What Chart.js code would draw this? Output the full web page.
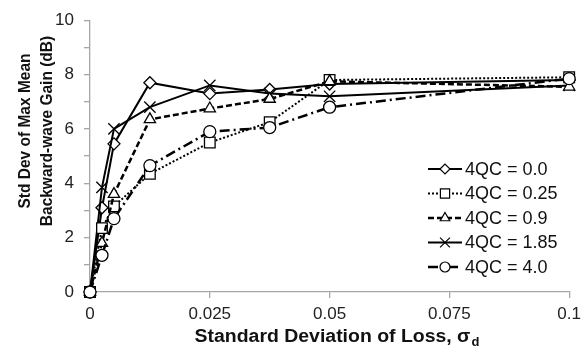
<!DOCTYPE html>
<html>
<head>
<meta charset="utf-8">
<script src="https://cdn.jsdelivr.net/npm/chart.js@4"></script>
<style>
  html, body { margin: 0; padding: 0; background: #fff; }
  #wrap { position: relative; width: 587px; height: 349px; }
</style>
</head>
<body>
<div id="wrap"><canvas id="gainChart" width="587" height="349"></canvas></div>
<script>
// standard deviation of loss (x values)
const sigmaD = [0, 0.0025, 0.005, 0.0125, 0.025, 0.0375, 0.05, 0.1];

// std dev of max mean backward-wave gain (dB), one list per 4QC value
const qc00 = [0, 3.1, 5.45, 7.7, 7.3, 7.45, 7.65, 7.8];
const qc025 = [0, 2.35, 3.15, 4.35, 5.5, 6.25, 7.8, 7.9];
const qc09 = [0, 1.8, 3.6, 6.35, 6.75, 7.1, 7.75, 7.55];
const qc185 = [0, 3.85, 6.0, 6.8, 7.6, 7.3, 7.2, 7.6];
const qc40 = [0, 1.35, 2.7, 4.65, 5.9, 6.05, 6.8, 7.85];

const seriesNames = ['4QC = 0.0', '4QC = 0.25', '4QC = 0.9', '4QC = 1.85', '4QC = 4.0'];
const xTickLabels = ['0', '0.025', '0.05', '0.075', '0.1'];
const yTickLabels = ['0', '2', '4', '6', '8', '10'];
const yTitleLines = ['Std Dev of Max Mean', 'Backward-wave Gain (dB)'];

const fontFamily = '"Liberation Sans", Arial, sans-serif';

function pts(ys) {
    return ys.map((y, i) => ({ x: sigmaD[i], y: y }));
}

function series(label, ys, style, radius, dash, width) {
    return {
        label: label,
        data: pts(ys),
        borderColor: '#000',
        borderWidth: width,
        borderDash: dash,
        pointStyle: style,
        pointRadius: radius,
        pointHoverRadius: radius,
        pointBackgroundColor: '#fff',
        pointBorderColor: '#000',
        pointBorderWidth: 1.3,
        tension: 0,
        fill: false,
        clip: false
    };
}

const datasets = [
    series(seriesNames[4], qc40, 'circle', 6, [10, 4, 2, 4], 2.5),
    series(seriesNames[2], qc09, 'triangle', 6.5, [6, 3], 2.5),
    series(seriesNames[1], qc025, 'rect', 7.5, [2, 2], 2),
    series(seriesNames[3], qc185, 'crossRot', 8, [], 2),
    series(seriesNames[0], qc00, 'rectRot', 6, [], 2)
];

// legend drawn as line sample + marker, in the order of the picture
const legendPlugin = {
    id: 'lineLegend',
    afterDraw(chart) {
        const ctx = chart.ctx;
        const order = [4, 2, 1, 3, 0];
        ctx.save();
        order.forEach((di, row) => {
            const ds = chart.data.datasets[di];
            const y = 169 + row * 24.5;
            ctx.strokeStyle = '#000';
            ctx.lineWidth = ds.borderWidth;
            ctx.setLineDash(ds.borderDash);
            ctx.beginPath();
            ctx.moveTo(428, y);
            ctx.lineTo(462, y);
            ctx.stroke();
            ctx.setLineDash([]);
            ctx.fillStyle = '#fff';
            ctx.lineWidth = 1.2;
            Chart.helpers.drawPoint(ctx, { pointStyle: ds.pointStyle, radius: ds.pointRadius - 1, rotation: 0, borderWidth: 1.2 }, 445, y);
            ctx.fillStyle = '#111';
            ctx.font = '18px ' + fontFamily;
            ctx.textBaseline = 'middle';
            ctx.textAlign = 'left';
            ctx.fillText(ds.label, 465, y + 1);
        });
        ctx.restore();
    }
};

// axis titles: x title has a subscript d, y title sits a bit above the middle
const titlePlugin = {
    id: 'axisTitles',
    afterDraw(chart) {
        const ctx = chart.ctx;
        const main = 'Standard Deviation of Loss, \u03c3';
        const sub = 'd';
        ctx.save();
        ctx.fillStyle = '#111';
        ctx.textBaseline = 'alphabetic';
        ctx.textAlign = 'left';
        ctx.translate(337, 342);
        ctx.scale(1.08, 1);
        ctx.font = 'bold 18px ' + fontFamily;
        const w1 = ctx.measureText(main).width;
        ctx.font = 'bold 12px ' + fontFamily;
        const w2 = ctx.measureText(sub).width;
        const x0 = -(w1 + w2 + 1) / 2;
        ctx.font = 'bold 18px ' + fontFamily;
        ctx.fillText(main, x0, 0);
        ctx.font = 'bold 12px ' + fontFamily;
        ctx.fillText(sub, x0 + w1 + 1, 4);
        ctx.restore();

        ctx.save();
        ctx.fillStyle = '#111';
        ctx.font = 'bold 15.5px ' + fontFamily;
        ctx.textAlign = 'center';
        ctx.textBaseline = 'middle';
        ctx.translate(0, 131);
        ctx.rotate(-Math.PI / 2);
        ctx.scale(1, 1.12);
        ctx.fillText(yTitleLines[0], 0, 25 / 1.12);
        ctx.fillText(yTitleLines[1], 0, 47 / 1.12);
        ctx.restore();
    }
};

const tickFont = { family: fontFamily, size: 17 };

new Chart(document.getElementById('gainChart'), {
    type: 'line',
    data: { datasets: datasets },
    options: {
        responsive: false,
        animation: false,
        events: [],
        layout: { padding: { top: 18, right: 11, left: 0, bottom: 0 } },
        plugins: {
            legend: { display: false },
            tooltip: { enabled: false }
        },
        scales: {
            x: {
                type: 'linear',
                min: 0,
                max: 0.1,
                border: { color: '#a6a6a6', width: 1.3 },
                grid: { drawOnChartArea: false, color: '#a6a6a6', tickLength: 6, lineWidth: 1.3 },
                ticks: {
                    stepSize: 0.025,
                    color: '#222',
                    font: tickFont,
                    padding: 6,
                    maxRotation: 0,
                    callback: (v, i) => xTickLabels[i]
                },
                afterFit: (scale) => { scale.height = 57; }
            },
            y: {
                min: 0,
                max: 10,
                border: { color: '#a6a6a6', width: 1.3 },
                grid: { drawOnChartArea: false, color: '#a6a6a6', tickLength: 6, lineWidth: 1.3 },
                ticks: {
                    stepSize: 1,
                    color: '#222',
                    font: tickFont,
                    padding: 10,
                    autoSkip: false,
                    callback: (v) => (v % 2 === 0 ? yTickLabels[v / 2] : '')
                },
                afterFit: (scale) => { scale.width = 90; }
            }
        }
    },
    plugins: [legendPlugin, titlePlugin]
});
</script>
</body>
</html>
